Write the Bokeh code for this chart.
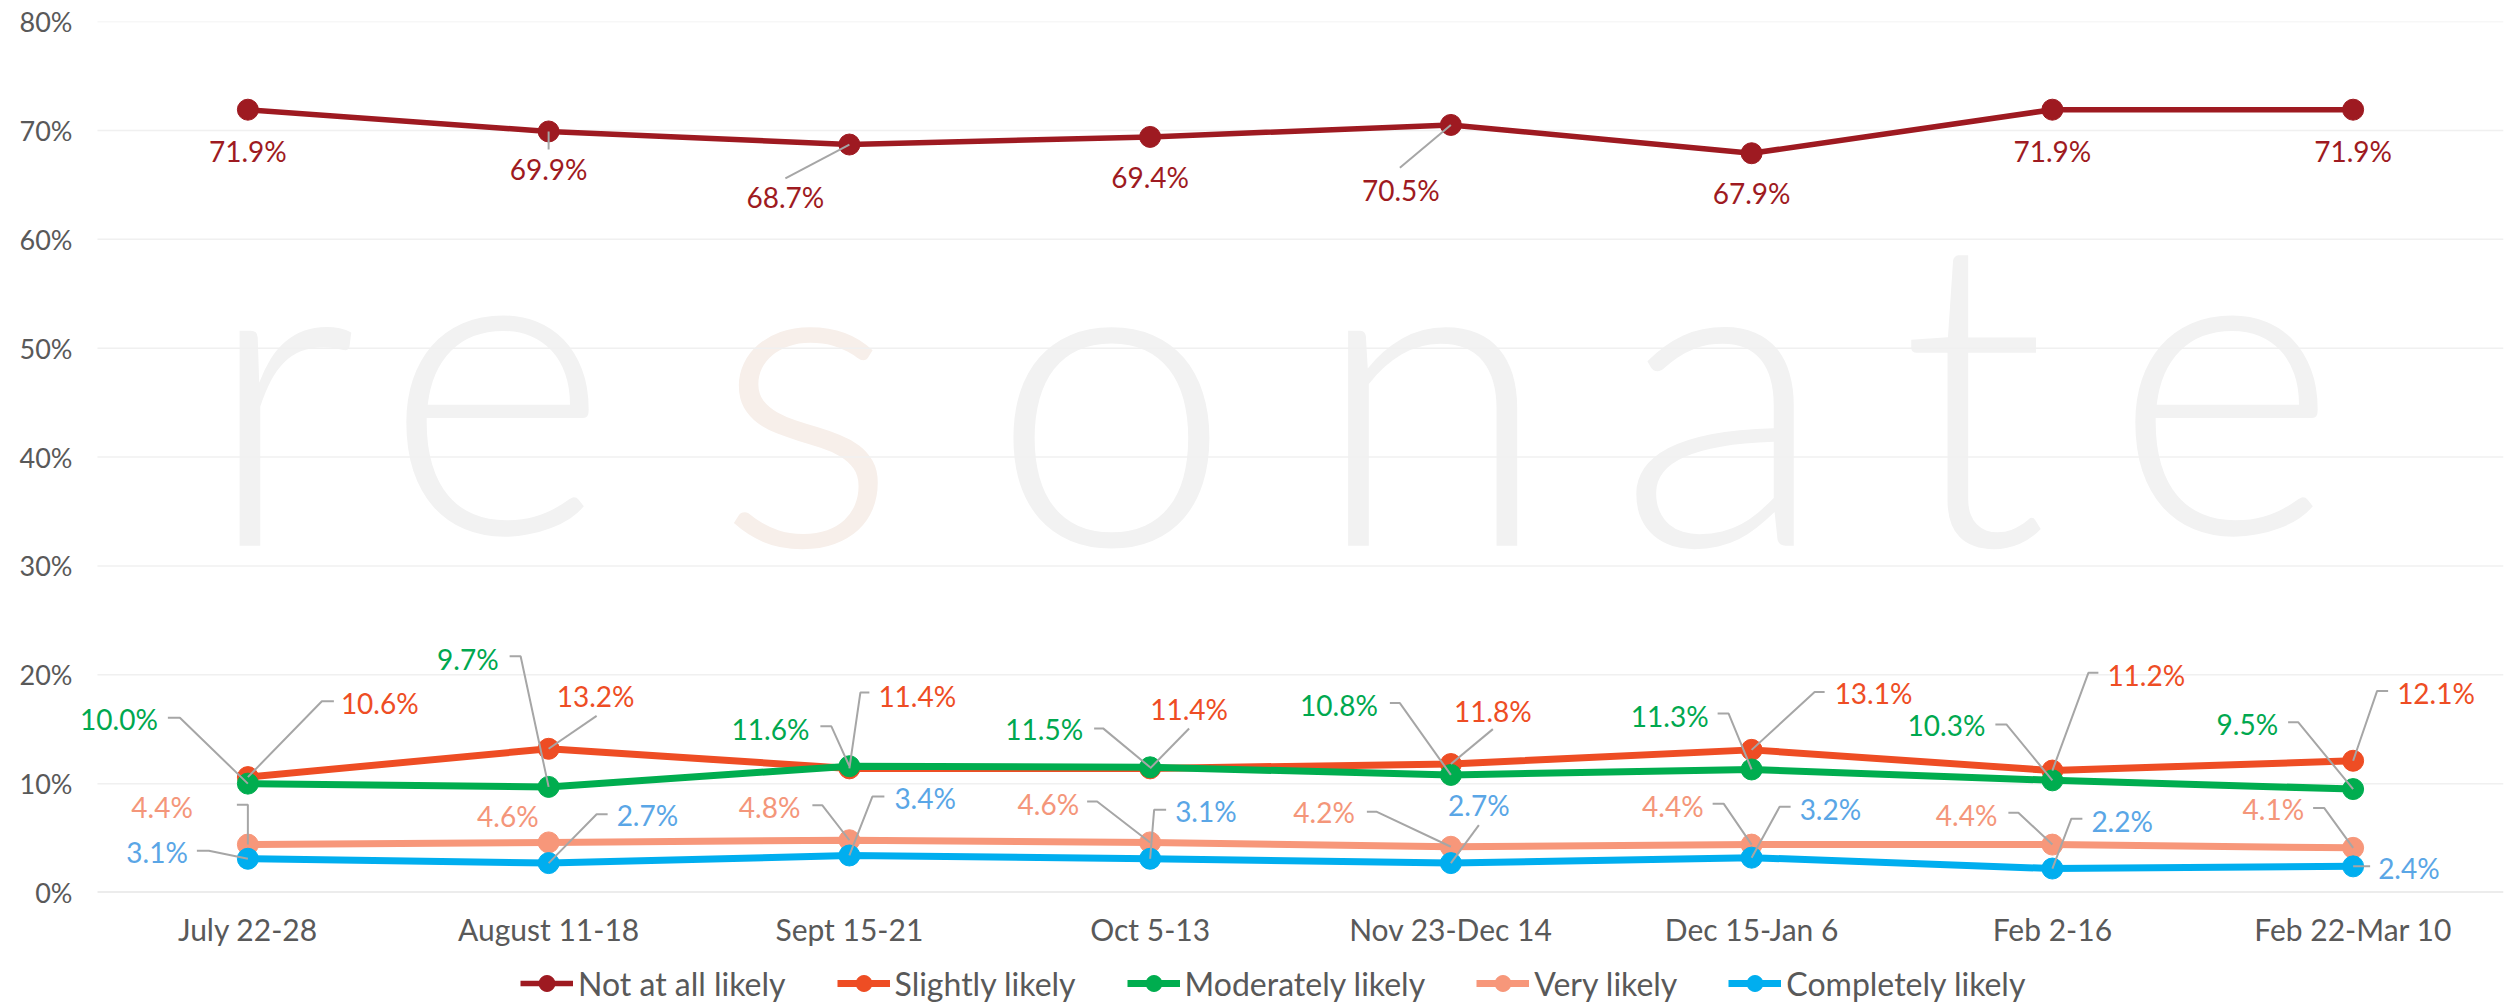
from bokeh.plotting import figure
from bokeh.layouts import column
from bokeh.models import Range1d, FixedTicker, Legend, LegendItem
from bokeh.core.properties import value
from bokeh.embed import file_html
from bokeh.resources import INLINE

# ---------------- data ----------------
categories = ["July 22-28", "August 11-18", "Sept 15-21", "Oct 5-13",
              "Nov 23-Dec 14", "Dec 15-Jan 6", "Feb 2-16", "Feb 22-Mar 10"]
not_at_all = [71.9, 69.9, 68.7, 69.4, 70.5, 67.9, 71.9, 71.9]
slightly = [10.6, 13.2, 11.4, 11.4, 11.8, 13.1, 11.2, 12.1]
moderately = [10.0, 9.7, 11.6, 11.5, 10.8, 11.3, 10.3, 9.5]
very = [4.4, 4.6, 4.8, 4.6, 4.2, 4.4, 4.4, 4.1]
completely = [3.1, 2.7, 3.4, 3.1, 2.7, 3.2, 2.2, 2.4]
series_names = ["Not at all likely", "Slightly likely", "Moderately likely",
                "Very likely", "Completely likely"]
y_ticks = [0, 10, 20, 30, 40, 50, 60, 70, 80]
y_tick_labels = ["0%", "10%", "20%", "30%", "40%", "50%", "60%", "70%", "80%"]

# ---------------- styles ----------------
FONT_NAME = "Lato"
FONT = value(FONT_NAME)
LINE_COLORS = ["#9E1A21", "#EE4D24", "#00AD4F", "#F7977A", "#00AEEF"]
LABEL_COLORS = ["#9E1A21", "#EE4D24", "#00A84F", "#F4967A", "#5AA6E6"]
LINE_WIDTHS = [5.5, 7, 7, 7, 7]

W = 2513
H = 949                   # main chart height
LEG_H = 1003 - H          # legend strip height
GRID_LEFT = 97            # screen x where the plotting area (x = 0) begins
ML, MR, MT = 78, 10, 21
ZERO_Y = 894              # screen y of the 0% line
MB = H - ZERO_Y
FH = H - MT - MB
PX_X = (W - MR - GRID_LEFT) / 8.0
PX_Y = FH / 80.0
X0 = -(GRID_LEFT - ML) / PX_X

def sx_to_data(sx):
    return (sx - GRID_LEFT) / PX_X

def sy_to_data(sy):
    return (ZERO_Y - sy) / PX_Y

# label layout: (dx, dy, align, leader offsets) in screen pixels relative to point
L = "left"; R = "right"; C = "center"
layout_not = [
    (0, 41, C, []), (0, 38, C, [(0, 18)]), (-64, 53, C, [(-64, 34)]), (0, 40, C, []),
    (-50, 65, C, [(-51, 43)]), (0, 40, C, []), (0, 41, C, []), (0, 41, C, []),
]
layout_sli = [
    (93, -74, L, [(74, -76), (86, -76)]), (47, -53, C, [(48, -33)]),
    (29, -73, L, [(11, -76), (20, -76)]), (39, -60, C, [(39, -40)]),
    (42, -53, C, [(42, -35)]), (83, -57, L, [(63, -58), (73, -58)]),
    (55, -96, L, [(36, -98), (46, -98)]), (44, -68, L, [(24, -70), (35, -70)]),
]
layout_mod = [
    (-90, -65, R, [(-68, -66), (-80, -66)]), (-50, -128, R, [(-28, -131), (-39, -131)]),
    (-40, -37, R, [(-18, -40), (-29, -40)]), (-67, -38, R, [(-47, -39), (-56, -39)]),
    (-73, -70, R, [(-51, -72), (-61, -72)]), (-43, -54, R, [(-23, -56), (-34, -56)]),
    (-67, -55, R, [(-46, -56), (-57, -56)]), (-75, -65, R, [(-55, -67), (-65, -67)]),
]
layout_very = [
    (-55, -38, R, [(0, -40), (-11, -40)]), (-10, -26, R, []),
    (-49, -33, R, [(-27, -35), (-37, -35)]), (-71, -39, R, [(-53, -41), (-63, -41)]),
    (-96, -35, R, [(-74, -35), (-84, -35)]), (-48, -39, R, [(-28, -41), (-39, -41)]),
    (-55, -30, R, [(-34, -32), (-44, -32)]), (-49, -39, R, [(-29, -40), (-40, -40)]),
]
layout_comp = [
    (-60, -7, R, [(-39, -8), (-51, -8)]), (68, -48, L, [(48, -49), (59, -49)]),
    (45, -58, L, [(23, -59), (35, -59)]), (25, -48, L, [(4, -49), (16, -49)]),
    (28, -58, C, [(28, -38)]), (48, -49, L, [(28, -51), (39, -51)]),
    (39, -48, L, [(19, -50), (30, -50)]), (25, 2, L, [(17, 0)]),
]

all_series = [not_at_all, slightly, moderately, very, completely]
layouts = [layout_not, layout_sli, layout_mod, layout_very, layout_comp]
xs = [i + 0.5 for i in range(len(categories))]

p = figure(width=W, height=H, x_range=Range1d(X0, 8), y_range=Range1d(0, 80),
           output_backend="svg", toolbar_location=None,
           min_border_left=ML, min_border_right=MR, min_border_top=MT,
           min_border_bottom=MB)
p.outline_line_color = None
p.background_fill_color = "white"
p.border_fill_color = "white"

# watermark "resonate"
wm_letters = ["r", "e", "s", "o", "n", "a", "t", "e"]
wm_cx = [280, 496, 806, 1111, 1431, 1722, 1973, 2225]
wm_colors = ["#F2F2F2"] * 8
wm_colors[2] = "#F7EFEA"
p.text(x=[sx_to_data(c) for c in wm_cx], y=[sy_to_data(547 - 168)] * 8,
       text=wm_letters, text_align="center", text_baseline="alphabetic",
       text_font=value("'Lato Light', 'Lato Hairline', Lato, sans-serif"),
       text_font_size="432px", text_color=wm_colors, level="underlay")

# gridlines over the plotting area
p.segment(x0=[0] * len(y_ticks), x1=[8] * len(y_ticks), y0=y_ticks, y1=y_ticks,
          line_color=["#D9D9D9"] + ["#F0F0F0"] * (len(y_ticks) - 1),
          line_width=[2] + [1.5] * (len(y_ticks) - 1), level="underlay")

# axes
p.xaxis.ticker = FixedTicker(ticks=xs)
p.xaxis.major_label_overrides = {x: c for x, c in zip(xs, categories)}
p.yaxis.ticker = FixedTicker(ticks=y_ticks)
p.yaxis.major_label_overrides = {t: s for t, s in zip(y_ticks, y_tick_labels)}
for ax in (p.xaxis, p.yaxis):
    ax.axis_line_color = None
    ax.major_tick_line_color = None
    ax.minor_tick_line_color = None
    ax.major_tick_in = 0
    ax.major_tick_out = 0
    ax.major_label_text_font = FONT_NAME
    ax.major_label_text_color = "#595959"
p.yaxis.major_label_text_font_size = "27px"
p.xaxis.major_label_text_font_size = "30px"
p.yaxis.major_label_standoff = 6
p.xaxis.major_label_standoff = 18
p.xgrid.grid_line_color = None
p.ygrid.grid_line_color = None

lead_xs, lead_ys = [], []
label_groups = []
for k, (vals, lay) in enumerate(zip(all_series, layouts)):
    p.line(xs, vals, line_color=LINE_COLORS[k], line_width=LINE_WIDTHS[k])
    p.scatter(xs, vals, size=21, fill_color=LINE_COLORS[k], line_color=LINE_COLORS[k])
    groups = {}
    for x, v, (dx, dy, al, lead) in zip(xs, vals, lay):
        groups.setdefault(al, ([], [], []))
        g = groups[al]
        g[0].append(x + dx / PX_X)
        g[1].append(v - dy / PX_Y)
        g[2].append(f"{v:.1f}%")
        if lead:
            lx = [x] + [x + a / PX_X for a, b in lead]
            ly = [v] + [v - b / PX_Y for a, b in lead]
            lead_xs.append(lx)
            lead_ys.append(ly)
    label_groups.append((k, groups))

p.multi_line(lead_xs, lead_ys, line_color="#A6A6A6", line_width=2)

for k, groups in label_groups:
    for al, (gx, gy, gt) in groups.items():
        p.text(x=gx, y=gy, text=gt, text_align=al, text_baseline="middle",
               text_font=FONT, text_font_size="28px", text_color=LABEL_COLORS[k])

# ---------------- legend strip ----------------
# same series drawn out of view; only their legend entries are visible
pl = figure(width=W, height=LEG_H, x_range=Range1d(-20, -19), y_range=Range1d(-20, -19),
            output_backend="svg", toolbar_location=None,
            x_axis_location=None, y_axis_location=None,
            min_border_left=0, min_border_right=0, min_border_top=0, min_border_bottom=0)
pl.outline_line_color = None
pl.xgrid.grid_line_color = None
pl.ygrid.grid_line_color = None
legend_items = []
for k, (name, vals) in enumerate(zip(series_names, all_series)):
    lr = pl.line(xs, vals, line_color=LINE_COLORS[k], line_width=LINE_WIDTHS[k])
    sr = pl.scatter(xs, vals, size=20, fill_color=LINE_COLORS[k], line_color=LINE_COLORS[k])
    legend_items.append(LegendItem(label=name, renderers=[lr, sr]))

legend = Legend(items=legend_items, orientation="horizontal", location=(442, 0),
                glyph_width=53, glyph_height=40, label_standoff=5, spacing=51,
                padding=0, margin=0, border_line_color=None, background_fill_alpha=0,
                label_text_font=FONT_NAME, label_text_font_size="32px",
                label_text_color="#595959")
pl.add_layout(legend)

layout = column(p, pl, spacing=0)
open("out.html", "w").write(file_html(layout, INLINE))
